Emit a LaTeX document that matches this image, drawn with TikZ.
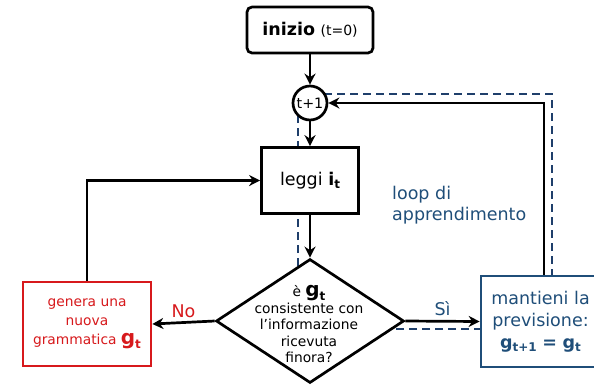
\documentclass[tikz,border=0pt]{standalone}
\usepackage{fontspec}
\setmainfont{DejaVu Sans}
\usetikzlibrary{shapes.geometric,arrows.meta}
\definecolor{myred}{HTML}{D7191C}
\definecolor{myblue}{HTML}{1F4E79}
\definecolor{dashblue}{HTML}{1F3F6B}
\newcommand{\subb}[1]{\raisebox{-3.5pt}{\fontsize{12}{12}\selectfont\bfseries #1}}
\newcommand{\bigsymg}{{\fontsize{20}{20}\selectfont\bfseries g}}
\begin{document}
\begin{tikzpicture}[x=1pt,y=-1pt,
  box/.style={draw, line width=2.7pt, fill=white, inner sep=0pt, align=center},
  conn/.style={draw, line width=2.7pt, -{Stealth[length=11pt,width=11pt,inset=3.5pt]}},
  big/.style={font=\fontsize{17.5}{21}\selectfont},
  small/.style={font=\fontsize{13.8}{16.5}\selectfont}]
\useasboundingbox (0,0) rectangle (594,384);

\coordinate (d1) at (298,94);
\coordinate (d2) at (552,94);
\coordinate (d3) at (552,329);
\coordinate (d4) at (298,329);
\draw[dashblue, line width=2.7pt, dash pattern=on 8pt off 5pt] (d1) -- (d2) -- (d3) -- (d4) -- cycle;

\node[box, rounded corners=5pt, minimum width=126pt, minimum height=46pt, big] (start) at (310,30) {\textbf{inizio} {\fontsize{14}{14}\selectfont(t=0)}};
\node[box, circle, minimum size=34pt, font=\fontsize{14.3}{14}\selectfont] (circ) at (310,103) {t+1};
\node[box, minimum width=97pt, minimum height=66pt, big] (leggi) at (310,180.5) {leggi \textbf{i}\subb{t}};
\node[box, diamond, minimum width=188pt, minimum height=124pt] (dec) at (310,321) {};
\node[small, align=center, inner sep=0pt] (dectext) at (309,324) {è \bigsymg\subb{t}\\consistente con\\l’informazione\\ricevuta\\finora?};
\node[box, draw=myred, text=myred, minimum width=128pt, minimum height=84pt, font=\fontsize{13.8}{19}\selectfont] (red) at (87,324) {genera una\\nuova\\grammatica \bigsymg\subb{t}};
\node[box, draw=myblue, text=myblue, minimum width=119pt, minimum height=91pt, font=\fontsize{17.5}{22}\selectfont] (keep) at (540.5,321.5) {mantieni la\\previsione:\\\textbf{g}\subb{t+1} \textbf{=} \textbf{g}\subb{t}};
\node[big, text=myblue, align=left, anchor=west, inner sep=0pt] (loop) at (392,205) {loop di\\apprendimento};

\draw[conn] (start) -- (circ);
\draw[conn] (circ) -- (leggi);
\draw[conn] (leggi) -- (dec);
\draw[conn] (dec.west) -- node[above, big, text=myred, inner sep=3pt] {No} (red.east);
\draw[conn] (dec.east) -- node[above, big, text=myblue, inner sep=4pt] {Sì} (keep.west);
\draw[conn] (red.north) |- (leggi.west);
\draw[conn] ([xshift=3.5pt]keep.north) |- (circ.east);
\end{tikzpicture}
\end{document}
